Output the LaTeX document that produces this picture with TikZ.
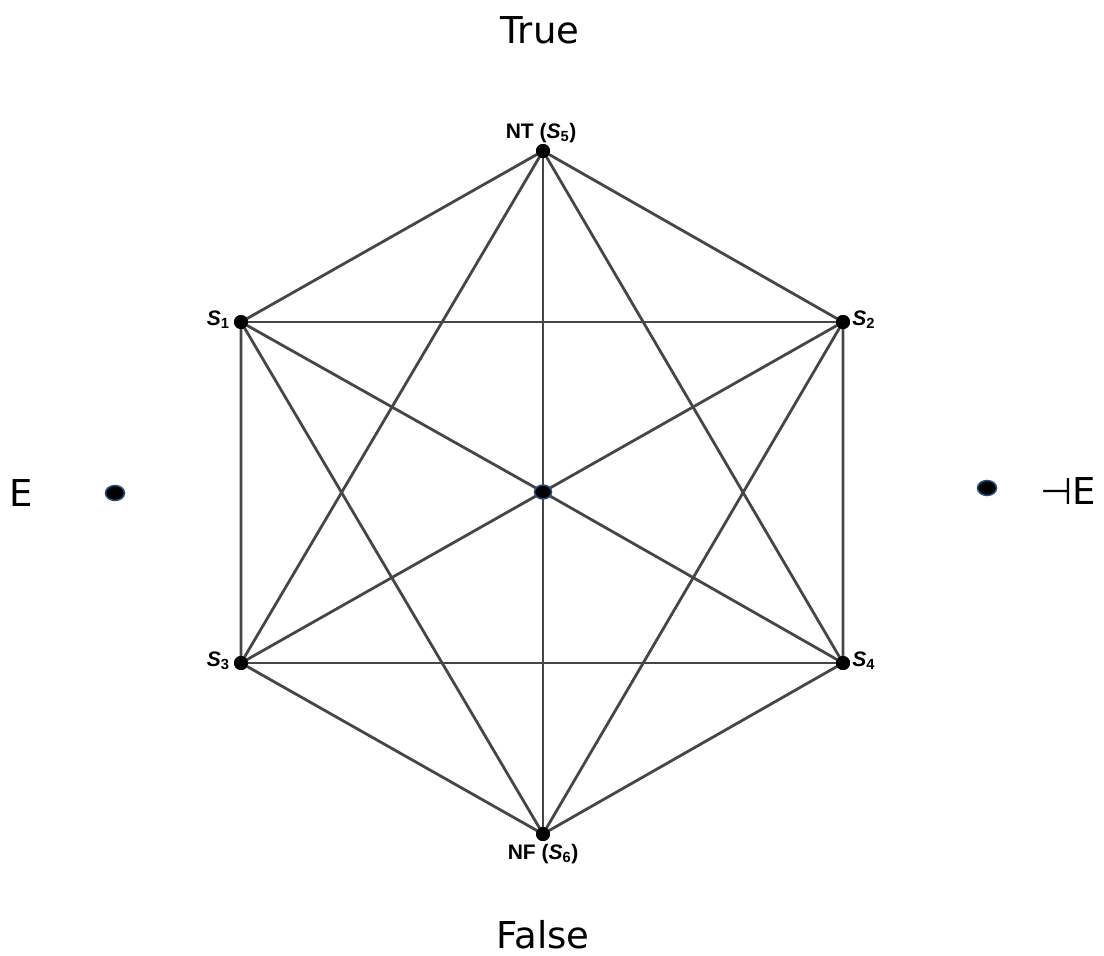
\documentclass[tikz,border=0pt]{standalone}
\usepackage{fontspec}
\usetikzlibrary{shapes.geometric}
\setmainfont{DejaVu Sans}
\newfontfamily\lblfont{Liberation Sans}
\definecolor{edgegray}{RGB}{70,70,70}
\definecolor{rimblue}{RGB}{40,80,120}
\begin{document}
\begin{tikzpicture}[x=1pt,y=-1pt,
  dot/.style={circle,fill=black,inner sep=0pt,minimum size=14pt},
  rimdot/.style={ellipse,fill=black,draw=rimblue,line width=1.5pt,inner sep=0pt,minimum width=19pt,minimum height=15pt},
  edge/.style={edgegray,line width=2.8pt},
  lbl/.style={font=\lblfont\bfseries\fontsize{21}{24}\selectfont,inner sep=2pt},
  big/.style={font=\fontsize{37}{44}\selectfont}]
 \useasboundingbox (0,0) rectangle (1104,956);
 % vertices
 \node[dot] (nt) at (543,151) {};
 \node[dot] (nf) at (543,834) {};
 \node[dot] (s1) at (241,322) {};
 \node[dot] (s2) at (843,322) {};
 \node[dot] (s3) at (241,663) {};
 \node[dot] (s4) at (843,663) {};
 \coordinate (c) at (543,492);
 % edges
 \draw[edge] (nt.center)--(s1.center)--(s3.center)--(nf.center)--(s4.center)--(s2.center)--cycle;
 \draw[edge] (s1.center)--(s2.center);
 \draw[edge] (s3.center)--(s4.center);
 \draw[edge] (nt.center)--(nf.center);
 \draw[edge] (nt.center)--(s3.center);
 \draw[edge] (nt.center)--(s4.center);
 \draw[edge] (nf.center)--(s1.center);
 \draw[edge] (nf.center)--(s2.center);
 \draw[edge] (s1.center)--(c)--(s4.center);
 \draw[edge] (s2.center)--(c)--(s3.center);
 \node[rimdot,minimum width=17pt,minimum height=14pt] (mid) at (c) {};
 \foreach \v in {nt,nf,s1,s2,s3,s4} \node[dot] at (\v) {};
 % labels
 \node[lbl,anchor=south] at ([xshift=-2pt,yshift=-1pt]nt.north) {NT (\textit{S}\textsubscript{5})};
 \node[lbl,anchor=north] at ([yshift=-1pt]nf.south) {NF (\textit{S}\textsubscript{6})};
 \node[lbl,anchor=east] at ([xshift=-2pt,yshift=2pt]s1.west) {\textit{S}\textsubscript{1}};
 \node[lbl,anchor=west] at ([xshift=0pt,yshift=2pt]s2.east) {\textit{S}\textsubscript{2}};
 \node[lbl,anchor=east] at ([xshift=-2pt,yshift=2pt]s3.west) {\textit{S}\textsubscript{3}};
 \node[lbl,anchor=west] at ([xshift=0pt,yshift=2pt]s4.east) {\textit{S}\textsubscript{4}};
 % poles
 \node[big] (tru) at (540,30) {True};
 \node[big] (fal) at (543,935) {False};
 \node[rimdot] (e) at (115,493) {};
 \node[rimdot] (ne) at (987,488) {};
 \node[big] (etxt) at (21,493) {E};
 \node[big] (netxt) at (1068,491) {⊣E};
\end{tikzpicture}
\end{document}
